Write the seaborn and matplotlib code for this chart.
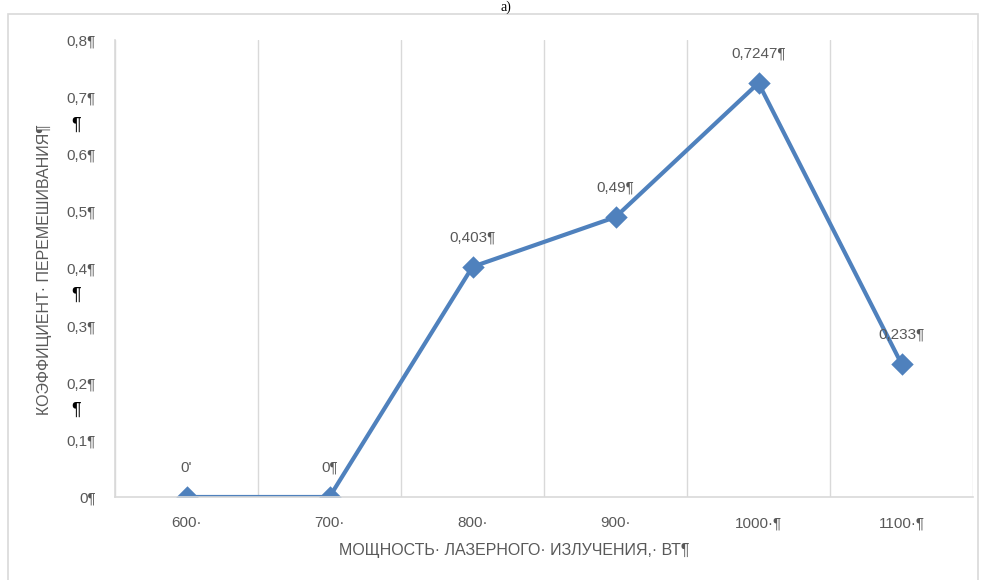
import numpy as np
import pandas as pd
import matplotlib.pyplot as plt
import matplotlib.patches as mpatches
import seaborn as sns

# данные графика
power = ["600", "700", "800", "900", "1000", "1100"]
mixing = [0.0, 0.0, 0.403, 0.49, 0.7247, 0.233]
point_labels = ["0'", "0¶", "0,403¶", "0,49¶", "0,7247¶", "0,233¶"]
tick_labels = ["600·", "700·", "800·", "900·", "1000·¶", "1100·¶"]
y_ticks = [0, 0.1, 0.2, 0.3, 0.4, 0.5, 0.6, 0.7, 0.8]
y_tick_labels = ["0¶", "0,1¶", "0,2¶", "0,3¶", "0,4¶", "0,5¶", "0,6¶", "0,7¶", "0,8¶"]

sns.set_theme(style="white")
plt.rcParams['font.family'] = ['Liberation Sans Narrow', 'Liberation Sans', 'DejaVu Sans']

grey = "#595959"
blue = "#4F81BD"

df = pd.DataFrame({"power": power, "mixing": mixing})

fig = plt.figure(figsize=(9.82, 5.80), dpi=100)
ax = fig.add_axes([115 / 982, 1 - 497 / 580, 858 / 982, 457 / 580])

# рамка диаграммы
fig.patches.append(mpatches.Rectangle((8 / 982, 1 - 585 / 580), 970 / 982, 571 / 580,
                                      transform=fig.transFigure, fill=False,
                                      edgecolor="#D9D9D9", linewidth=1.2))
fig.text(0.515, 0.999, "а)", ha="center", va="top", fontsize=10,
         family=["Liberation Serif", "DejaVu Serif"], color="black")

sns.pointplot(data=df, x="power", y="mixing", ax=ax, color=blue, markers="D",
              markersize=9, linewidth=3, errorbar=None)

ax.set_xlim(-0.5, 5.5)
ax.set_ylim(0, 0.8)

# вертикальные линии сетки между категориями
for b in np.arange(-0.5, 6.0, 1.0):
    ax.axvline(b, color="#D9D9D9", linewidth=1, zorder=0)

for side in ["top", "right"]:
    ax.spines[side].set_visible(False)
for side in ["left", "bottom"]:
    ax.spines[side].set_color("#D9D9D9")
    ax.spines[side].set_linewidth(1.2)

ax.set_yticks(y_ticks)
ax.set_yticklabels(y_tick_labels, fontsize=11, color=grey)
ax.set_xticks(range(len(power)))
ax.set_xticklabels(tick_labels, fontsize=11, color=grey)
ax.tick_params(axis="y", length=0, pad=14)
ax.tick_params(axis="x", length=0, pad=14)

# подписи значений
for i, (v, lab) in enumerate(zip(mixing, point_labels)):
    ax.annotate(lab, (i, v), xytext=(0, 16), textcoords="offset points",
                ha="center", va="bottom", fontsize=11, color=grey)

ax.set_xlabel("")
ax.set_ylabel("")
fig.text(45 / 982, 1 - 270 / 580, "КОЭФФИЦИЕНТ· ПЕРЕМЕШИВАНИЯ¶", rotation=90,
         ha="center", va="center", fontsize=11.5, color=grey)
for yy in [125, 295, 410]:
    fig.text(76 / 982, 1 - yy / 580, "¶", ha="center", va="center",
             fontsize=13, color="black")
fig.text(514 / 982, 1 - 551 / 580, "МОЩНОСТЬ· ЛАЗЕРНОГО· ИЗЛУЧЕНИЯ,· ВТ¶",
         ha="center", va="center", fontsize=11.5, color=grey)

fig.savefig("out.png", dpi=100)
